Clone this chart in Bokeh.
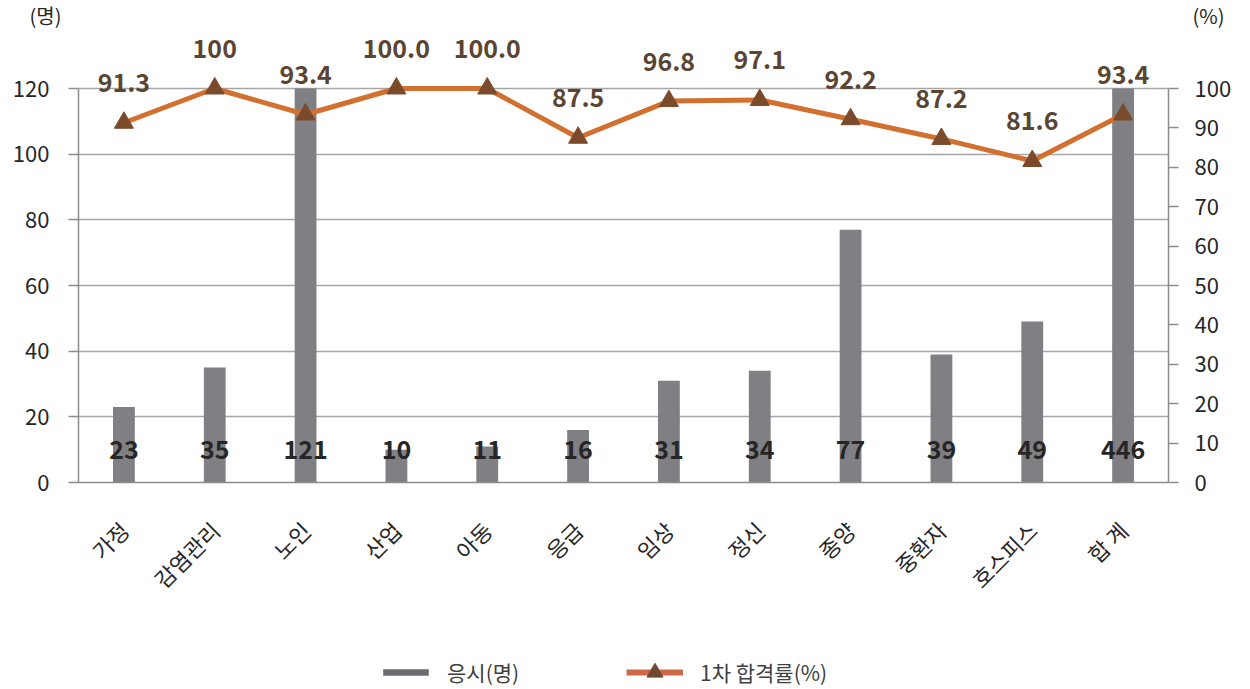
import math
import numpy as np
from bokeh.plotting import figure
from bokeh.layouts import column
from bokeh.models import (Range1d, LinearAxis, FixedTicker, Label, Legend,
                          LegendItem, ColumnDataSource, FactorRange)
from bokeh.core.properties import value
from bokeh.embed import file_html
from bokeh.resources import INLINE

categories = ["가정", "감염관리", "노인", "산업", "아동", "응급", "임상",
              "정신", "종양", "중환자", "호스피스", "합 계"]
examinees = [23, 35, 121, 10, 11, 16, 31, 34, 77, 39, 49, 446]
pass_rate = [91.3, 100, 93.4, 100.0, 100.0, 87.5, 96.8, 97.1, 92.2, 87.2, 81.6, 93.4]
rate_labels = ["91.3", "100", "93.4", "100.0", "100.0", "87.5", "96.8", "97.1",
               "92.2", "87.2", "81.6", "93.4"]
left_ticks = [0, 20, 40, 60, 80, 100, 120]
right_ticks = [0, 10, 20, 30, 40, 50, 60, 70, 80, 90, 100]
bar_series = "응시(명)"
line_series = "1차 합격률(%)"
left_unit = "(명)"
right_unit = "(%)"

FONT = "Noto Sans CJK KR"
LEFT_MAX = 120
RIGHT_MAX = 100
W = 1250
TOP_H = 30
MAIN_H = 605
LEG_H = 54
FRAME_H = 452
Y_END = FRAME_H * LEFT_MAX / 394.0

BAR_C = "#7F7F84"
LINE_C = "#D2702F"
MARK_C = "#7B4A2B"
LAB_C = "#5B4532"
AX_C = "#8C8C8C"
GRID_C = "#A6A6A6"
TXT_C = "#262626"

src = ColumnDataSource(dict(
    cat=categories,
    top=list(np.minimum(examinees, LEFT_MAX)),
    cnt=[str(v) for v in examinees],
    rate=pass_rate,
    rlab=rate_labels,
))

# ---------- top strip with unit labels ----------
pt = figure(width=W, height=TOP_H, x_range=Range1d(0, W), y_range=Range1d(0, TOP_H),
            x_axis_location=None, y_axis_location=None, min_border=0,
            frame_align=False, output_backend="svg", toolbar_location=None)
pt.outline_line_color = None
pt.grid.visible = False
pt.add_layout(Label(x=45, y=TOP_H / 2, text=left_unit, text_align="center",
                    text_baseline="middle", text_font=FONT,
                    text_font_size="20px", text_color=TXT_C))
pt.add_layout(Label(x=1208, y=TOP_H / 2, text=right_unit, text_align="center",
                    text_baseline="middle", text_font=FONT,
                    text_font_size="20px", text_color=TXT_C))

# ---------- main chart ----------
p = figure(x_range=FactorRange(*categories), y_range=Range1d(0, Y_END),
           width=W, height=MAIN_H, output_backend="svg", toolbar_location=None,
           min_border_left=78, min_border_right=82, min_border_top=0,
           min_border_bottom=MAIN_H - FRAME_H, frame_align=False)
p.outline_line_color = None
p.extra_y_ranges = {"pct": Range1d(0, Y_END * RIGHT_MAX / LEFT_MAX)}

bars = p.vbar(x="cat", top="top", width=0.24, source=src, fill_color=BAR_C,
              line_color=None)
line_r = p.line(x="cat", y="rate", source=src, y_range_name="pct",
                line_color=LINE_C, line_width=5)
mark_r = p.scatter(x="cat", y="rate", source=src, y_range_name="pct",
                   marker="triangle", size=19, fill_color=MARK_C,
                   line_color=MARK_C)

p.text(x="cat", y="rate", text="rlab", source=src, y_range_name="pct",
       y_offset=-40, text_align="center", text_baseline="middle",
       text_font=value(FONT), text_font_style="bold", text_font_size="25px",
       text_color=LAB_C)
p.text(x="cat", y=0, text="cnt", source=src, y_offset=-33,
       text_align="center", text_baseline="middle",
       text_font=value(FONT), text_font_style="bold", text_font_size="25px",
       text_color=TXT_C)

yl = p.yaxis[0]
yl.ticker = FixedTicker(ticks=left_ticks)
yl.bounds = (0, LEFT_MAX)

ax_r = LinearAxis(y_range_name="pct", ticker=FixedTicker(ticks=right_ticks),
                  bounds=(0, RIGHT_MAX))
p.add_layout(ax_r, "right")

for ax in [yl, ax_r]:
    ax.axis_line_color = AX_C
    ax.axis_line_width = 1.5
    ax.major_tick_line_color = AX_C
    ax.major_tick_line_width = 1.5
    ax.major_tick_in = 0
    ax.major_tick_out = 10
    ax.minor_tick_line_color = None
    ax.major_label_text_font = FONT
    ax.major_label_text_font_size = "22px"
    ax.major_label_text_color = TXT_C
yl.major_label_standoff = 19
ax_r.major_label_standoff = 16

xa = p.xaxis[0]
xa.axis_line_color = AX_C
xa.axis_line_width = 1.5
xa.major_tick_line_color = None
xa.minor_tick_line_color = None
xa.major_label_orientation = math.pi / 4
xa.major_label_text_font = FONT
xa.major_label_text_font_size = "22px"
xa.major_label_text_color = TXT_C
xa.major_label_standoff = 37

p.xgrid.grid_line_color = None
p.ygrid.ticker = FixedTicker(ticks=left_ticks)
p.ygrid.grid_line_color = GRID_C
p.ygrid.grid_line_width = 1.5

# ---------- legend strip ----------
pl = figure(width=W, height=LEG_H, x_range=FactorRange(*categories),
            y_range=Range1d(LEFT_MAX * 10, LEFT_MAX * 11),
            x_axis_location=None, y_axis_location=None, min_border=0,
            frame_align=False, output_backend="svg", toolbar_location=None)
pl.outline_line_color = None
pl.grid.visible = False
lb = pl.vbar(x="cat", top="top", width=0.24, source=src, fill_color="#6B6C70",
             line_color=None)
ll = pl.line(x="cat", y="rate", source=src, line_color="#D0684A", line_width=6)
lm = pl.scatter(x="cat", y="rate", source=src, marker="triangle",
                fill_color="#6F4A32", line_color="#6F4A32")

common = dict(orientation="horizontal", border_line_color=None,
              background_fill_alpha=0, label_text_font=FONT,
              label_text_font_size="21px", label_text_color="#404040",
              glyph_width=57, padding=0, margin=0, label_height=40)
leg1 = Legend(items=[LegendItem(label=bar_series, renderers=[lb])],
              location=(377, -3), glyph_height=8, label_standoff=13, **common)
leg2 = Legend(items=[LegendItem(label=line_series, renderers=[ll, lm])],
              location=(626, -3), glyph_height=40, label_standoff=17, **common)
pl.add_layout(leg1)
pl.add_layout(leg2)

layout = column(pt, p, pl, spacing=0)
open("out.html", "w").write(file_html(layout, INLINE))
